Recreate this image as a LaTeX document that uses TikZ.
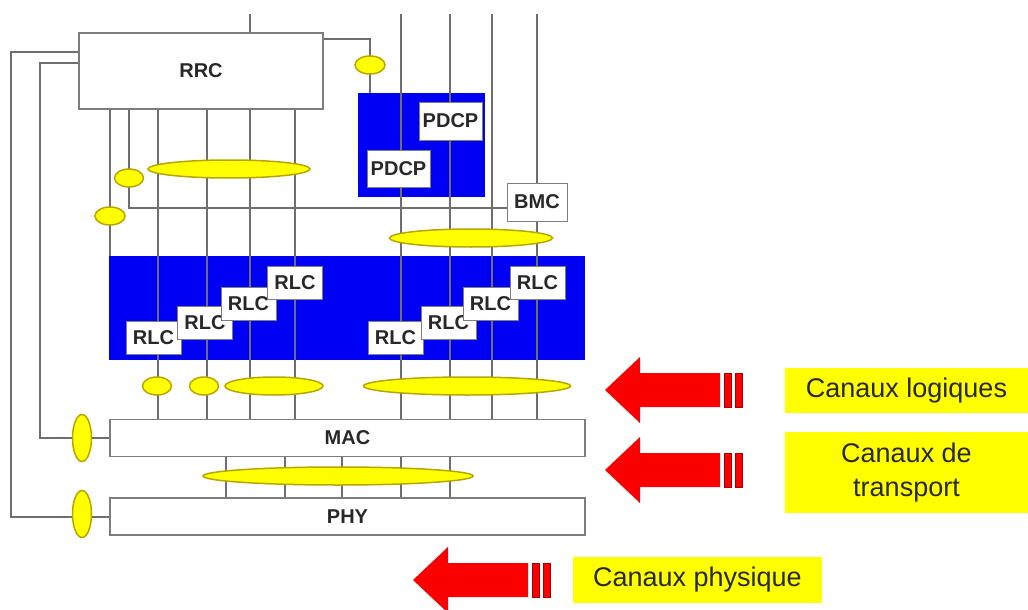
\documentclass[tikz,border=0pt]{standalone}
\usepackage{fontspec}
\setmainfont{Liberation Sans}
\usepackage{xcolor}
\usepackage{tikz}
\usetikzlibrary{positioning,shapes.geometric}
\definecolor{wireg}{RGB}{110,110,110}
\definecolor{boxg}{RGB}{125,125,125}
\definecolor{layblue}{RGB}{0,0,245}
\definecolor{ovyel}{RGB}{255,255,0}
\definecolor{ovrim}{RGB}{185,165,0}
\definecolor{chred}{RGB}{250,0,0}
\definecolor{chdark}{RGB}{165,0,0}
\definecolor{txtg}{RGB}{40,40,40}
\tikzset{
  lay/.style ={draw=boxg,fill=white,line width=1.6pt,inner sep=0pt,text=txtg,font=\fontsize{20}{22}\selectfont\bfseries},
  ent/.style ={draw=boxg,fill=white,line width=1pt,inner sep=0pt,text=txtg,font=\fontsize{20}{22}\selectfont\bfseries,minimum width=55pt,minimum height=33pt},
  bluebox/.style={fill=layblue,inner sep=0pt},
  ovl/.style ={ellipse,draw=ovrim,fill=ovyel,line width=1.5pt,inner sep=0pt},
  wire/.style={draw=wireg,line width=1.8pt},
  tag/.style ={fill=ovyel,inner sep=0pt,text=txtg,align=center,font=\fontsize{27}{34}\selectfont},
  chan/.pic={
    \fill[chred] (0,0) -- (35,-33) -- (35,-17) -- (115,-17) -- (115,17) -- (35,17) -- (35,33) -- cycle;
    \filldraw[fill=chred,draw=chdark,line width=1pt] (119,-17) rectangle (126,17);
    \filldraw[fill=chred,draw=chdark,line width=1pt] (130,-17) rectangle (137,17);
  },
}

\begin{document}
\begin{tikzpicture}[x=1pt,y=-1pt]
\useasboundingbox (0,0) rectangle (1028,610);

% blue entity blocks
\node[bluebox,minimum width=127pt,minimum height=104pt] (pdcpbg) at (421.5,145) {};
\node[bluebox,minimum width=476pt,minimum height=104pt] (rlcbg) at (347,308) {};

% layers
\node[lay,minimum width=244pt,minimum height=76pt] (rrc) at (201,71) {RRC};
\node[lay,minimum width=475pt,minimum height=37pt] (mac) at (347.5,438) {MAC};
\node[lay,below=40pt of mac,minimum width=475pt,minimum height=37pt] (phy) {PHY};
\node[ent,minimum width=60pt,minimum height=38pt] (bmc) at (537,202) {BMC};

% channel columns
\foreach \n/\x in {a/110,b/129,c/158,d/207,e/250,f/295,g/401,h/450,i/492,j/537,k/226,l/285,m/342,p/370}
  \coordinate (col\n) at (\x,14);

\draw[wire] (cole) -- (cole |- rrc.north);
\foreach \n in {c,d,e,f} \draw[wire] (col\n |- rrc.south) -- (col\n |- mac.north);
\foreach \n in {g,h,i} \draw[wire] (col\n) -- (col\n |- mac.north);
\draw[wire] (colj) -- (bmc.north);
\draw[wire] (bmc.south) -- (colj |- mac.north);
\draw[wire] (cola |- rrc.south) -- (cola |- rlcbg.north);
\draw[wire] (colb |- rrc.south) |- ([yshift=-6pt]bmc.west);
\foreach \n in {k,l,m,g,h} \draw[wire] (col\n |- mac.south) -- (col\n |- phy.north);
\draw[wire] ([yshift=-7pt]rrc.north east) -| (colp |- pdcpbg.north);
\draw[wire] ([yshift=-20pt]rrc.north west) -- ++(-67,0) |- (phy.west);
\draw[wire] ([yshift=-31pt]rrc.north west) -- ++(-38,0) |- (mac.west);

% service access points
\node[ovl,minimum width=30pt,minimum height=18pt] (oPd) at (370,65) {};
\node[ovl,minimum width=29pt,minimum height=18pt] (oSigA) at (129,178) {};
\node[ovl,minimum width=30pt,minimum height=18pt] (oSigB) at (110,216) {};
\node[ovl,minimum width=162pt,minimum height=18pt] (oRrc) at (229,169) {};
\node[ovl,minimum width=163pt,minimum height=18pt] (oPdcp) at (471,238) {};
\node[ovl,minimum width=29pt,minimum height=18pt] (oLogA) at (157,386) {};
\node[ovl,minimum width=29pt,minimum height=18pt] (oLogB) at (204,386) {};
\node[ovl,minimum width=98pt,minimum height=18pt] (oLogC) at (274,386) {};
\node[ovl,minimum width=207pt,minimum height=18pt] (oLogD) at (467,386) {};
\node[ovl,minimum width=270pt,minimum height=18pt] (oTrp) at (338,476) {};
\node[ovl,minimum width=19pt,minimum height=47pt] (oMac) at (82,438) {};
\node[ovl,minimum width=19pt,minimum height=47pt] (oPhy) at (82,514) {};

% entities
\node[ent,minimum width=63pt,minimum height=38pt] (pdcpA) at (450.5,121) {PDCP};
\node[ent,minimum width=63pt,minimum height=37pt] (pdcpB) at (398.5,168.5) {PDCP};
\foreach \x/\y [count=\i] in {153.5/337.5,205/322.5,248.5/303.5,295/283}
  \node[ent] (rlcL\i) at (\x,\y) {RLC};
\foreach \x/\y [count=\i] in {395.5/337.5,448.5/323,490.5/303.5,537.5/283}
  \node[ent] (rlcR\i) at (\x,\y) {RLC};

% channel legend
\pic at (605,390) {chan};
\pic at (605,470) {chan};
\pic at (413,580) {chan};
\node[tag,minimum width=243pt,minimum height=45pt] (tLog) at (906.5,390.5) {Canaux logiques};
\node[tag,minimum width=243pt,minimum height=81pt] (tTrp) at (906.5,472.5) {Canaux de\\transport};
\node[tag,minimum width=249pt,minimum height=46pt] (tPhy) at (697.5,580) {Canaux physique};
\end{tikzpicture}
\end{document}
